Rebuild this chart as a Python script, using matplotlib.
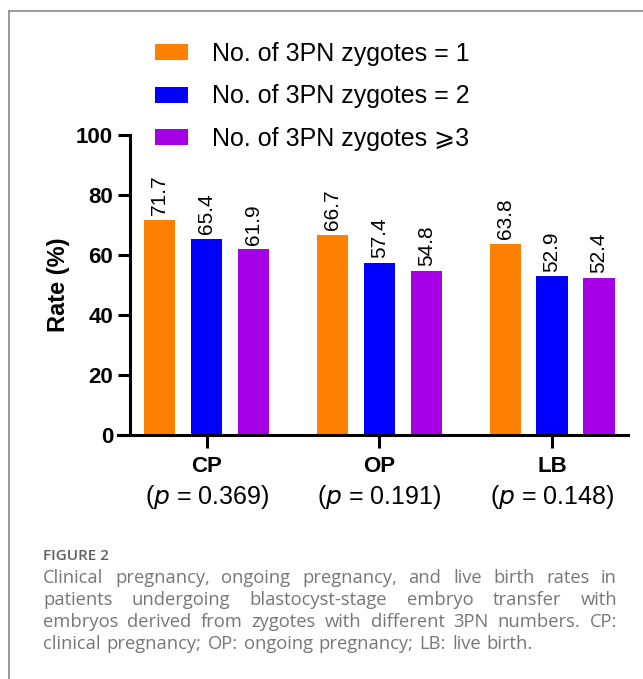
import numpy as np
import matplotlib
matplotlib.use("Agg")
from matplotlib import pyplot as plt
from matplotlib.lines import Line2D

outcomes = ["CP", "OP", "LB"]
p_values = ["0.369", "0.191", "0.148"]
group_labels = ["No. of 3PN zygotes = 1", "No. of 3PN zygotes = 2", "No. of 3PN zygotes \u2a7e3"]
rate_1 = [71.7, 66.7, 63.8]
rate_2 = [65.4, 57.4, 52.9]
rate_3 = [61.9, 54.8, 52.4]
colors = ["#FF8000", "#0000FF", "#A600E6"]

caption_title = "FIGURE 2"
caption_lines = [
    "Clinical pregnancy, ongoing pregnancy, and live birth rates in",
    "patients undergoing blastocyst-stage embryo transfer with",
    "embryos derived from zygotes with different 3PN numbers. CP:",
    "clinical pregnancy; OP: ongoing pregnancy; LB: live birth.",
]

plt.rcParams['font.family'] = ['Liberation Sans', 'DejaVu Sans']

W, H = 643, 679
fig = plt.figure(figsize=(W / 100, H / 100), dpi=100)

# panel border (top and left only)
fig.add_artist(Line2D([9 / W, 9 / W], [0, 1 - 11 / H], color="#8a8a8a", lw=1.2))
fig.add_artist(Line2D([9 / W, 1], [1 - 11 / H, 1 - 11 / H], color="#8a8a8a", lw=1.2))

ax = fig.add_axes([118 / W, 1 - 435 / H, 510 / W, 300 / H])
x = np.arange(len(outcomes))
width = 0.18
step = 0.272
series = [rate_1, rate_2, rate_3]
handles = []
for i, vals in enumerate(series):
    xs = x + (i - 1) * step
    b = ax.bar(xs, vals, width, color=colors[i], label=group_labels[i])
    handles.append(b)
    for xi, v in zip(xs, vals):
        ax.text(xi, v + 1.5, f"{v:.1f}", rotation=90, ha="center", va="bottom",
                fontsize=15)

ax.set_xlim(-0.514, 2.44)
ax.set_ylim(0, 100)
ax.spines['left'].set_position(('data', -0.445))
for s in ['top', 'right']:
    ax.spines[s].set_visible(False)
for s in ['left', 'bottom']:
    ax.spines[s].set_linewidth(2.2)
ax.set_yticks([0, 20, 40, 60, 80, 100])
ax.tick_params(axis='y', length=9, width=2.2, labelsize=16, pad=3)
ax.tick_params(axis='x', length=9, width=2.2, labelsize=16, pad=6)
for lab in ax.get_yticklabels():
    lab.set_fontweight('bold')
ax.set_xticks(x)
ax.set_xticklabels(outcomes, fontweight='bold')
for xi, p in zip(x, p_values):
    ax.text(xi, -0.208, f"($p$ = {p})", transform=ax.get_xaxis_transform(),
            ha="center", va="center", fontsize=18)
ax.set_ylabel("Rate (%)", fontsize=17, fontweight='bold')
ax.yaxis.set_label_coords(-0.095, 0.5)

fig.legend(handles=handles, labels=group_labels, loc="upper left",
           bbox_to_anchor=(155 / W, 1 - 42 / H), frameon=False, fontsize=18,
           handlelength=1.3, handleheight=0.6, handletextpad=1.0,
           labelspacing=0.74, borderpad=0, borderaxespad=0)

# caption, justified by hand
fig.text(43 / W, 1 - 556 / H, caption_title, fontsize=11, color="#606060",
         family=['Open Sans', 'DejaVu Sans'], va="center", fontweight='semibold')

renderer = fig.canvas.get_renderer()
left_px, right_px = 43, 617
line_y = [578, 600, 622, 644]
cap_font = dict(fontsize=13.2, color="#777777", family=['Open Sans', 'DejaVu Sans'],
                va="center")
for k, (line, yy) in enumerate(zip(caption_lines, line_y)):
    words = line.split(" ")
    texts = [fig.text(0, 1 - yy / H, w, **cap_font) for w in words]
    widths = [t.get_window_extent(renderer).width for t in texts]
    if k < len(caption_lines) - 1:
        gap = (right_px - left_px - sum(widths)) / (len(words) - 1)
    else:
        gap = 6
    pos = left_px
    for t, w in zip(texts, widths):
        t.set_x(pos / W)
        pos += w + gap

fig.savefig("out.png", dpi=100)
